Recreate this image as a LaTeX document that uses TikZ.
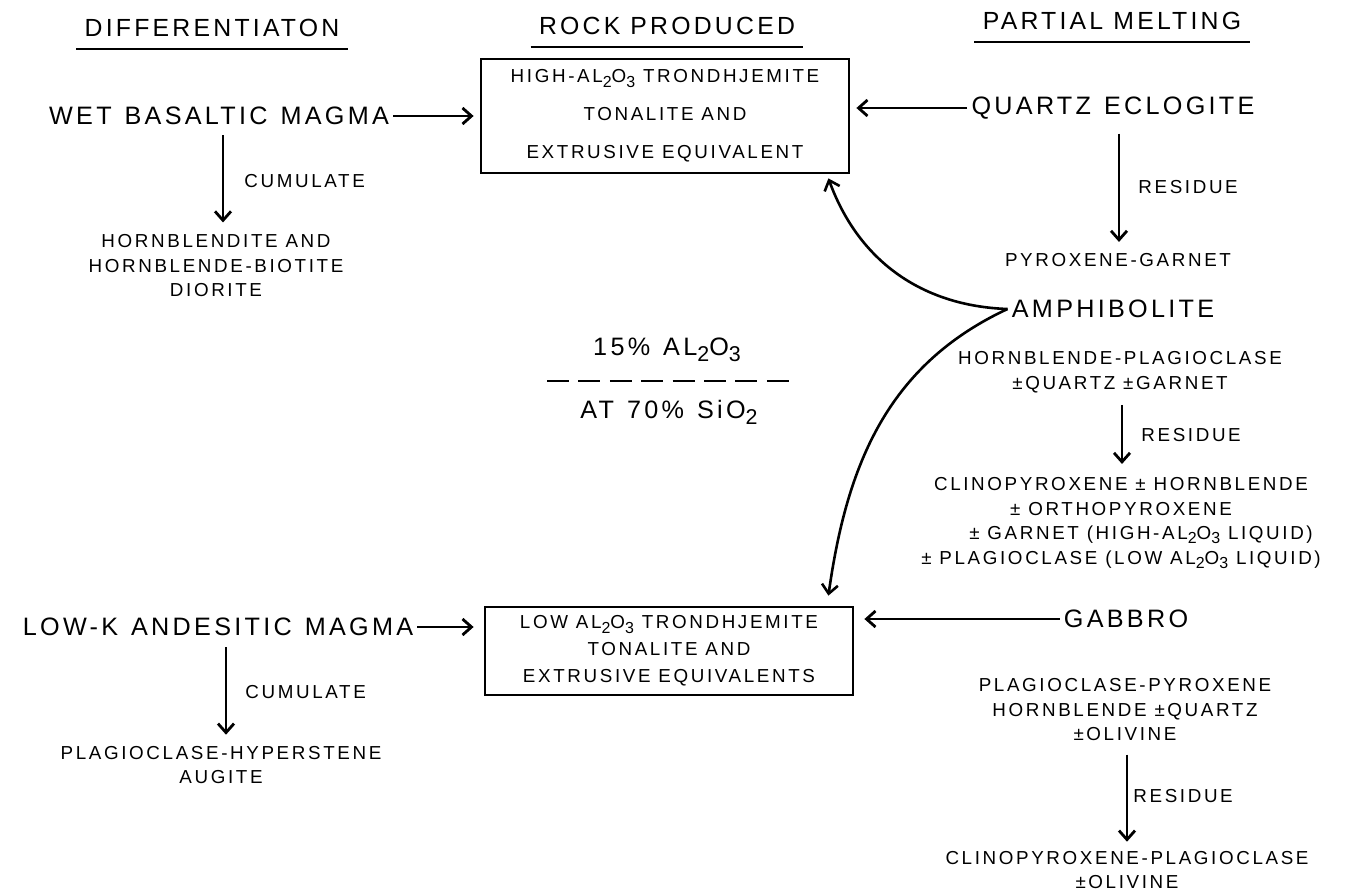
\documentclass[tikz,border=0pt]{standalone}
\usepackage{fontspec}
\setmainfont{Liberation Sans}[LetterSpace=14]
\usetikzlibrary{arrows.meta, calc}
\newcommand{\subidx}[1]{\raisebox{-0.45ex}{\scalebox{0.85}{#1}}}

\begin{document}
\begin{tikzpicture}[
    x=0.5pt, y=-0.5pt,
    font=\fontsize{9.4}{12.25}\selectfont,
    % Estilos de los textos
    heading/.style={font=\fontsize{12.4}{14}\selectfont\addfontfeatures{LetterSpace=13}, inner sep=1pt},
    big/.style={font=\fontsize{12.6}{14}\selectfont\addfontfeatures{LetterSpace=13},
        execute at begin node={\spaceskip=6.5pt\relax}, inner sep=2pt},
    small/.style={align=center, inner sep=1pt},
    rock/.style={draw, line width=1.4pt, minimum width=184pt, align=center},
    % Estilos de las flechas
    flow/.style={-{Straight Barb[length=4.5pt, width=8pt]}, line width=1.4pt},
    back/.style={flow, line width=1.3pt},
    fracbar/.style={line width=1.3pt, dash pattern=on 11pt off 4.7pt}
]

\useasboundingbox (0,0) rectangle (1355,894);

% -- Titulos --
\node[heading] (diff) at (212,28) {DIFFERENTIATON};
\node[heading] (rock) at (667,26) {ROCK PRODUCED};
\node[heading] (melt) at (1112,21) {PARTIAL MELTING};
\foreach \h in {diff, rock, melt}
    \draw[line width=1.3pt] ([xshift=-3pt, yshift=-5pt]\h.south west) -- ([xshift=3pt, yshift=-5pt]\h.south east);

% -- Rocas producidas --
\node[rock, minimum height=57pt, font=\fontsize{9.4}{19}\selectfont] (high) at (665,116)
    {HIGH-AL\subidx{2}O\subidx{3} TRONDHJEMITE\\TONALITE AND\\EXTRUSIVE EQUIVALENT};
\node[rock, minimum height=44pt, font=\fontsize{9.4}{13.5}\selectfont] (low) at (669,651)
    {LOW AL\subidx{2}O\subidx{3} TRONDHJEMITE\\TONALITE AND\\EXTRUSIVE EQUIVALENTS};

\node[big] (pct) at (667,350) {15\% AL\subidx{2}O\subidx{3}};
\node[big] (sio) at (669,412) {AT 70\% SiO\subidx{2}};
\draw[fracbar] ($(pct.south)!0.5!(sio.north)+(-121,0)$) -- ++(242,0);

% -- Diferenciacion --
\node[big] (wet) at (219,116) {WET BASALTIC MAGMA};
\node[small] (hbl) at (216,266) {HORNBLENDITE AND\\HORNBLENDE-BIOTITE\\DIORITE};
\node[big] (lowk) at (218,627) {LOW-K ANDESITIC MAGMA};
\node[small] (plgaug) at (221,765) {PLAGIOCLASE-HYPERSTENE\\AUGITE};

% -- Fusion parcial --
\node[big] (qe) at (1113,108) {QUARTZ ECLOGITE};
\node[small] (pxg) at (1118,260) {PYROXENE-GARNET};
\node[big] (amph) at (1113,309) {AMPHIBOLITE};
\node[small] (hblplg) at (1120,372) {HORNBLENDE-PLAGIOCLASE\\±QUARTZ ±GARNET};
\node[small] (cpx) at (1121,523) {CLINOPYROXENE ± HORNBLENDE\\± ORTHOPYROXENE\\
    \hspace*{20pt}± GARNET (HIGH-AL\subidx{2}O\subidx{3} LIQUID)\\± PLAGIOCLASE (LOW AL\subidx{2}O\subidx{3} LIQUID)};
\node[big] (gab) at (1126,619) {GABBRO};
\node[small] (gabmin) at (1125,710) {PLAGIOCLASE-PYROXENE\\HORNBLENDE ±QUARTZ\\±OLIVINE};
\node[small] (cpxplg) at (1127,870) {CLINOPYROXENE-PLAGIOCLASE\\±OLIVINE};

% -- Flechas horizontales --
\draw[flow, shorten >=3pt] (wet.east) -- (wet.east -| high.west);
\draw[flow, shorten >=3pt] (qe.west) -- (qe.west -| high.east);
\draw[flow, shorten >=5pt] (lowk.east) -- (lowk.east -| low.west);
\draw[flow, shorten >=5pt] (gab.west) -- (gab.west -| low.east);

% -- Cumulados y residuos --
\draw[flow, shorten <=3pt, shorten >=5pt] ([xshift=2pt]wet.south) -- node[small, midway, right=9pt] {CUMULATE} ([xshift=2pt]wet.south |- hbl.north);
\draw[flow, shorten <=3.5pt, shorten >=4.5pt] ([xshift=4pt]lowk.south) -- node[small, midway, right=8pt] {CUMULATE} ([xshift=4pt]lowk.south |- plgaug.north);
\draw[flow, shorten <=5pt, shorten >=4.5pt] ([xshift=3pt]qe.south) -- node[small, midway, right=8pt] {RESIDUE} ([xshift=3pt]qe.south |- pxg.north);
\draw[flow, shorten <=5pt, shorten >=5.5pt] ([xshift=1pt]hblplg.south) -- node[small, midway, right=8pt] {RESIDUE} ([xshift=1pt]hblplg.south |- cpx.north);
\draw[flow, shorten <=5.5pt, shorten >=3.5pt] ([xshift=1pt]gabmin.south) -- node[small, midway, right=1.5pt] {RESIDUE} ([xshift=1pt]gabmin.south |- cpxplg.north);

% -- Anfibolita a ambas rocas --
\draw[back] (amph.west) to[out=178, in=-70] ([xshift=-11pt, yshift=-2pt]high.south east);
\draw[back] (amph.west) to[out=205, in=82] ([xshift=-13pt, yshift=5pt]low.north east);

\end{tikzpicture}
\end{document}
